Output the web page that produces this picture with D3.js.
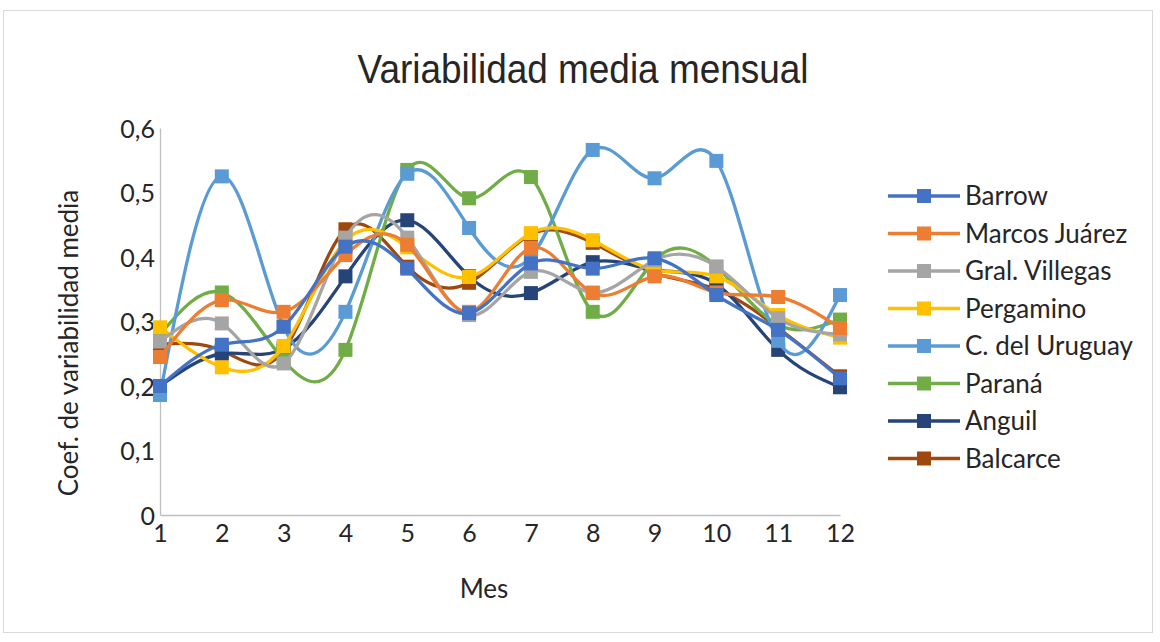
<!DOCTYPE html>
<html>
<head>
<meta charset="utf-8">
<script src="https://cdn.jsdelivr.net/npm/d3@7"></script>
<style>
  body { margin: 0; background: #fff; }
  #chart { width: 1160px; height: 642px; }
  text { font-family: Lato, 'Open Sans', sans-serif; fill: #262626; }
</style>
</head>
<body>
<div id="chart"></div>
<script>
const months = [1, 2, 3, 4, 5, 6, 7, 8, 9, 10, 11, 12]
const yTicks = [0, 0.1, 0.2, 0.3, 0.4, 0.5, 0.6]

const barrow      = [0.200, 0.264, 0.292, 0.416, 0.382, 0.313, 0.390, 0.382, 0.398, 0.341, 0.287, 0.212]
const marcosJuarez = [0.245, 0.333, 0.315, 0.403, 0.419, 0.315, 0.414, 0.344, 0.370, 0.345, 0.338, 0.290]
const gralVillegas = [0.269, 0.297, 0.235, 0.430, 0.430, 0.310, 0.377, 0.345, 0.395, 0.385, 0.305, 0.280]
const pergamino   = [0.291, 0.229, 0.262, 0.425, 0.415, 0.369, 0.437, 0.426, 0.380, 0.370, 0.310, 0.275]
const cUruguay    = [0.186, 0.525, 0.292, 0.315, 0.529, 0.445, 0.400, 0.566, 0.522, 0.549, 0.270, 0.341]
const parana      = [0.280, 0.345, 0.240, 0.256, 0.535, 0.491, 0.524, 0.315, 0.395, 0.385, 0.295, 0.303]
const anguil      = [0.200, 0.250, 0.258, 0.370, 0.457, 0.370, 0.344, 0.392, 0.380, 0.358, 0.256, 0.198]
const balcarce    = [0.265, 0.255, 0.255, 0.443, 0.385, 0.360, 0.435, 0.422, 0.375, 0.350, 0.290, 0.215]

const seriesNames = ['Barrow', 'Marcos Juárez', 'Gral. Villegas', 'Pergamino', 'C. del Uruguay', 'Paraná', 'Anguil', 'Balcarce']
const seriesValues = [barrow, marcosJuarez, gralVillegas, pergamino, cUruguay, parana, anguil, balcarce]
const seriesColors = ['#4472C4', '#ED7D31', '#A5A5A5', '#FFC000', '#5B9BD5', '#70AD47', '#264478', '#9E480E']

const widthD3 = 1160
const heightD3 = 642

const svg = d3.select('#chart').append('svg')
    .attr('width', widthD3)
    .attr('height', heightD3)

// chart frame
svg.append('rect')
    .attr('x', 3.5).attr('y', 10.5)
    .attr('width', 1149).attr('height', 622)
    .attr('fill', '#fff')
    .attr('stroke', '#d9d9d9')

svg.append('text')
    .text('Variabilidad media mensual')
    .attr('x', 583)
    .attr('y', 83)
    .attr('text-anchor', 'middle')
    .attr('textLength', 451)
    .attr('lengthAdjust', 'spacingAndGlyphs')
    .style('font-family', "'Liberation Sans Narrow', 'Liberation Sans', sans-serif")
    .style('font-size', '40px')
    .attr('fill', '#1a1a1a')

const xScale = d3.scaleLinear().domain([1, 12]).range([160, 840])
const yScale = d3.scaleLinear().domain([0, 0.6]).range([515, 128])

const locale = d3.formatLocale({ decimal: ',', thousands: '.', grouping: [3], currency: ['', ''] })
const fmt = (d) => d === 0 ? '0' : locale.format('.1f')(d)

const yAxis = d3.axisLeft(yScale).tickValues(yTicks).tickFormat(fmt).tickSize(0).tickPadding(5)
const xAxis = d3.axisBottom(xScale).tickValues(months).tickFormat(d3.format('d')).tickSize(0).tickPadding(9)

const gy = svg.append('g').attr('id', 'y-axis').attr('transform', 'translate(160, 0)').call(yAxis)
const gx = svg.append('g').attr('id', 'x-axis').attr('transform', 'translate(0, 515)').call(xAxis)

gy.select('.domain').attr('stroke', '#bfbfbf').attr('stroke-width', 1.3)
gx.select('.domain').attr('stroke', '#bfbfbf').attr('stroke-width', 1.3)
svg.selectAll('.tick text')
    .style('font-family', 'Lato, sans-serif')
    .style('font-size', '25px')
    .attr('fill', '#262626')
gy.selectAll('.tick text').attr('dy', '0.36em')

svg.append('text')
    .text('Coef. de variabilidad media')
    .attr('transform', 'translate(78, 343) rotate(-90)')
    .attr('text-anchor', 'middle')
    .style('font-size', '26px')

svg.append('text')
    .text('Mes')
    .attr('x', 484)
    .attr('y', 598)
    .attr('text-anchor', 'middle')
    .style('font-size', '26px')

const line = d3.line()
    .x((d, i) => xScale(months[i]))
    .y((d) => yScale(d))
    .curve(d3.curveNatural)

// earlier series sit on top, so draw them last
const order = d3.range(seriesNames.length).reverse()
const plot = svg.append('g').attr('class', 'series')

order.forEach(k => {
    const g = plot.append('g')
    g.append('path')
        .attr('d', line(seriesValues[k]))
        .attr('fill', 'none')
        .attr('stroke', seriesColors[k])
        .attr('stroke-width', 3.3)
    g.selectAll('rect')
        .data(seriesValues[k])
        .enter()
        .append('rect')
        .attr('x', (d, i) => xScale(months[i]) - 7)
        .attr('y', (d) => yScale(d) - 7)
        .attr('width', 14)
        .attr('height', 14)
        .attr('fill', seriesColors[k])
})

const legend = svg.append('g').attr('class', 'legend')
seriesNames.forEach((name, k) => {
    const y = 196 + k * 37.5
    legend.append('line')
        .attr('x1', 888).attr('x2', 960)
        .attr('y1', y).attr('y2', y)
        .attr('stroke', seriesColors[k])
        .attr('stroke-width', 3.5)
    legend.append('rect')
        .attr('x', 917).attr('y', y - 7)
        .attr('width', 14).attr('height', 14)
        .attr('fill', seriesColors[k])
    legend.append('text')
        .text(name)
        .attr('x', 965)
        .attr('y', y)
        .attr('dy', '0.35em')
        .style('font-size', '26px')
})
</script>
</body>
</html>
